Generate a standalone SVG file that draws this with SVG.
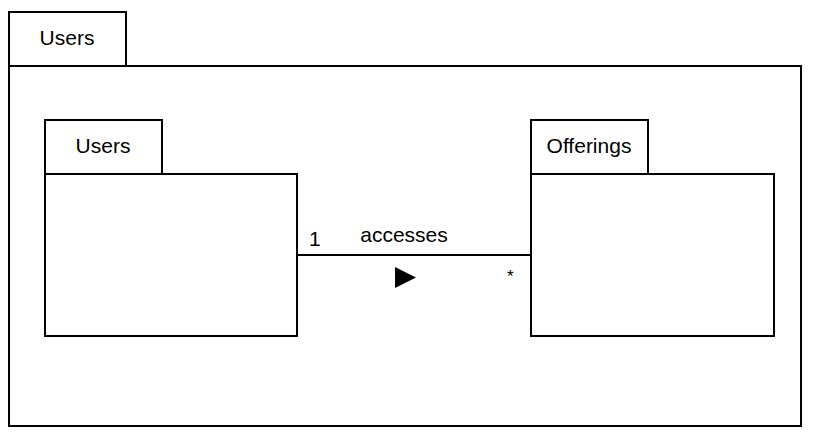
<svg xmlns="http://www.w3.org/2000/svg" width="815" height="439" viewBox="0 0 815 439">
<style>
.box{fill:#fff;stroke:#000;stroke-width:2}
.t{font-family:"Liberation Sans",Arial,sans-serif;font-size:21px;fill:#000}
.c{text-anchor:middle}
.edge{fill:none;stroke:#000;stroke-width:2}
</style>
<rect width="815" height="439" fill="#fff"/>
<g id="pkg-outer">
<rect class="box" x="9" y="12" width="117" height="54"/>
<rect class="box" x="9" y="66" width="792" height="360"/>
<text class="t c" x="67" y="45">Users</text>
</g>
<g id="pkg-users">
<rect class="box" x="45" y="120" width="117" height="54"/>
<rect class="box" x="45" y="174" width="252" height="162"/>
<text class="t c" x="103" y="153">Users</text>
</g>
<g id="pkg-offerings">
<rect class="box" x="531" y="120" width="117" height="54"/>
<rect class="box" x="531" y="174" width="243" height="162"/>
<text class="t c" x="589" y="153">Offerings</text>
</g>
<g id="connectors">
<line class="edge" x1="297" y1="255" x2="531" y2="255"/>
<polygon points="395,267 416,277.5 395,288" fill="#000"/>
<text class="t" x="309" y="246">1</text>
<text class="t c" x="404" y="242">accesses</text>
<text class="t" x="507" y="282" style="font-size:17px">*</text>
</g>
</svg>
